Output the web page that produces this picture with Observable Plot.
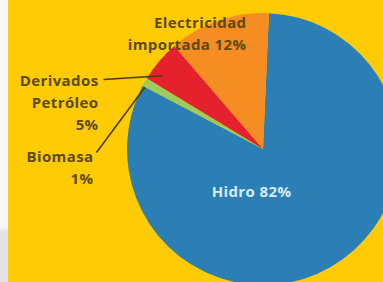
<!DOCTYPE html>
<html><head><meta charset="utf-8">
<script src="https://cdn.jsdelivr.net/npm/d3@7"></script>
<script src="https://cdn.jsdelivr.net/npm/@observablehq/plot@0.6"></script>
<style>
body{margin:0;background:#fff;}
#chart{position:relative;width:383px;height:282px;overflow:hidden;}
#strip{position:absolute;left:0;top:0;width:8px;height:282px;background:linear-gradient(to bottom,#f8f8fa 0,#f8f8fa 226px,#e4e4e8 232px,#e4e4e8 100%);}
</style></head><body><div id="chart"></div>
<script>
// ---- data ----
const categories = ["Hidro", "Biomasa", "Derivados Petróleo", "Electricidad importada"];
const labels = ["Hidro 82%", "Biomasa\n1%", "Derivados\nPetróleo\n5%", "Electricidad\nimportada 12%"];
const shares = [82, 1, 5, 12];
const colors = ["#2b7fb4", "#9ccc5c", "#e5212e", "#f68d22"];

// ---- layout (pie in radius units, centre at 0,0) ----
const W = 383, H = 282, CX = 263, CY = 149, R = 136;
const rotation = 2.5 * Math.PI / 180;
const labelPos = [
  {x: -0.088, y: -0.316, anchor: "middle", fill: "#d6ecf7"},
  {x: -1.25, y: -0.123, anchor: "end", fill: "#5c4a10"},
  {x: -1.213, y: 0.359, anchor: "end", fill: "#5c4a10"},
  {x: -0.125, y: 0.866, anchor: "end", fill: "#5c4a10"}
];
// leaders: from label side point to a point on the slice (fraction of slice angle, radius fraction)
const leaders = [
  {i: 2, x1: -1.176, y1: 0.515, frac: 0.27, rho: 0.92},
  {i: 1, x1: -1.228, y1: -0.022, frac: 0.0, rho: 0.985}
];

const arcs = d3.pie().sort(null).startAngle(rotation).endAngle(rotation + 2 * Math.PI)(shares);

const textData = labels.map((t, i) => ({text: t, ...labelPos[i]}));
const linkData = leaders.map(l => {
  const a = arcs[l.i];
  const th = a.startAngle + l.frac * (a.endAngle - a.startAngle);
  return {x1: l.x1, y1: l.y1, x2: l.rho * Math.sin(th), y2: l.rho * Math.cos(th)};
});

function pieMark(index, scales) {
  const g = d3.create("svg:g");
  const x0 = scales.x(0), y0 = scales.y(0), r = scales.x(1) - scales.x(0);
  const arc = d3.arc().innerRadius(0).outerRadius(r);
  g.attr("transform", `translate(${x0},${y0})`)
    .selectAll("path").data(arcs).join("path")
    .attr("d", arc).attr("fill", (d, i) => colors[i]);
  return g.node();
}

const chart = Plot.plot({
  width: W, height: H, margin: 0,
  x: {domain: [-CX / R, (W - CX) / R], range: [0, W], axis: null},
  y: {domain: [-(H - CY) / R, CY / R], range: [H, 0], axis: null},
  style: {background: "#ffcb05", fontFamily: "'Open Sans', sans-serif", letterSpacing: "0.4px"},
  marks: [
    pieMark,
    Plot.link(linkData, {x1: "x1", y1: "y1", x2: "x2", y2: "y2", stroke: "#4a3c0c", strokeWidth: 1.6}),
    Plot.text(textData.filter(d => d.anchor === "end"), {x: "x", y: "y", text: "text", textAnchor: "end", fill: "#5c4a10", fontSize: 15, fontWeight: "bold", lineHeight: 1.467}),
    Plot.text(textData.filter(d => d.anchor === "middle"), {x: "x", y: "y", text: "text", textAnchor: "middle", fill: "#d6ecf7", fontSize: 15, fontWeight: "bold"})
  ]
});
const host = document.getElementById("chart");
host.appendChild(chart);
const strip = document.createElement("div");
strip.id = "strip";
host.appendChild(strip);
</script>
</body></html>
